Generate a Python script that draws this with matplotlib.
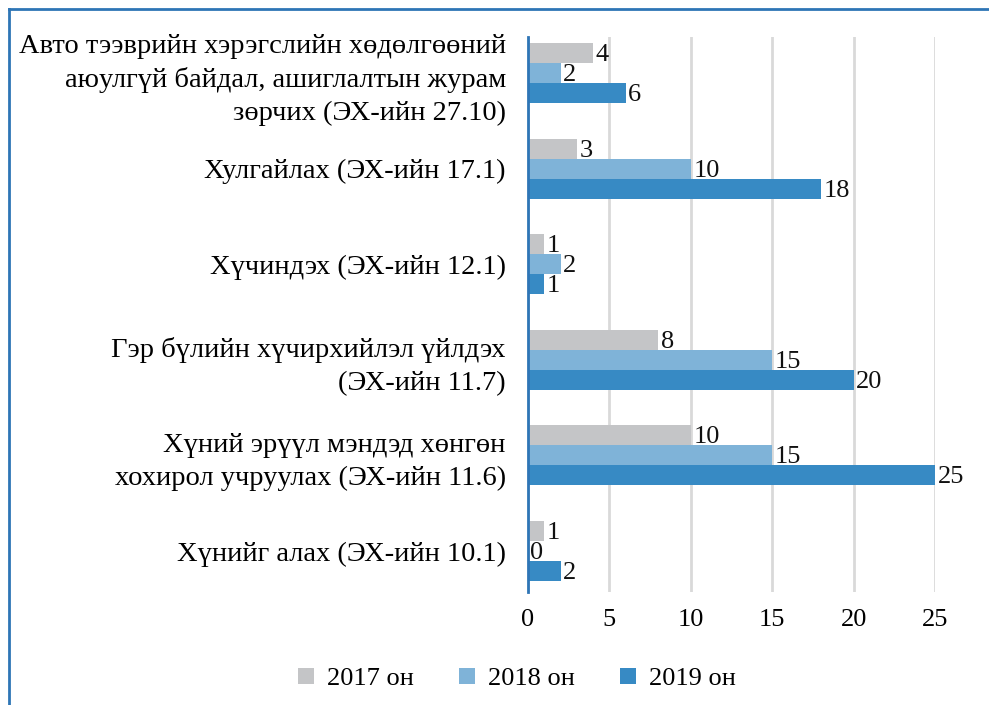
import matplotlib
matplotlib.use("Agg")
import matplotlib.pyplot as plt
from matplotlib.lines import Line2D
from matplotlib.patches import Patch
import numpy as np

categories = [
    "Авто тээврийн хэрэгслийн хөдөлгөөний\nаюулгүй байдал, ашиглалтын журам\nзөрчих (ЭХ-ийн 27.10)",
    "Хулгайлах (ЭХ-ийн 17.1)",
    "Хүчиндэх (ЭХ-ийн 12.1)",
    "Гэр бүлийн хүчирхийлэл үйлдэх\n(ЭХ-ийн 11.7)",
    "Хүний эрүүл мэндэд хөнгөн\nхохирол учруулах (ЭХ-ийн 11.6)",
    "Хүнийг алах (ЭХ-ийн 10.1)",
]
series_names = ["2017 он", "2018 он", "2019 он"]
v2017 = [4, 3, 1, 8, 10, 1]
v2018 = [2, 10, 2, 15, 15, 0]
v2019 = [6, 18, 1, 20, 25, 2]
xticks = [0, 5, 10, 15, 20, 25]

colors = ["#c4c5c7", "#7fb3d8", "#378ac4"]
FONT = "Liberation Serif"
FS = 19
FS_CAT = 20.5

plt.rcParams['font.family'] = [FONT, 'DejaVu Serif']

fig = plt.figure(figsize=(9.89, 7.05), dpi=100)
ax = fig.add_axes([528/989, 1-592/705, (935-528)/989, (592-37)/705])

y = np.arange(len(categories))
h = 0.21
for i, (vals, col) in enumerate(zip([v2017, v2018, v2019], colors)):
    pos = y + (i - 1) * h
    ax.barh(pos, vals, height=h, color=col, zorder=3)
    for p, v in zip(pos, vals):
        ax.text(v + 0.15, p + 0.02, str(v), va="center", ha="left", fontsize=FS, color="#111111", zorder=4)

ax.set_ylim(5.43, -0.38)
ax.set_xlim(0, 25)
ax.set_xticks(xticks)
ax.set_xticklabels([str(t) for t in xticks], fontsize=FS)
ax.set_yticks(y)
ax.set_yticklabels(categories, fontsize=FS_CAT, linespacing=1.39)
ax.tick_params(axis="both", length=0)
ax.tick_params(axis="x", pad=12)
ax.tick_params(axis="y", pad=16)
ax.xaxis.grid(True, color="#d9d9d9", linewidth=2, zorder=0)
for s in ["top", "right", "bottom"]:
    ax.spines[s].set_visible(False)
ax.spines["left"].set_color("#2e75b6")
ax.spines["left"].set_linewidth(2)
ax.spines["left"].set_zorder(5)

handles = [Patch(facecolor=c, edgecolor="none") for c in colors]
fig.legend(handles, series_names, loc="center", bbox_to_anchor=(517/989, 1-679/705),
           ncol=3, frameon=False, fontsize=FS, handlelength=0.6, handleheight=0.6,
           handletextpad=0.5, columnspacing=1.7)

# border lines
fig.add_artist(Line2D([9/989, 1], [1-9/705, 1-9/705], color="#2e75b6", linewidth=2, transform=fig.transFigure))
fig.add_artist(Line2D([9/989, 9/989], [0, 1-9/705], color="#2e75b6", linewidth=2, transform=fig.transFigure))

fig.savefig("out.png", dpi=100)
